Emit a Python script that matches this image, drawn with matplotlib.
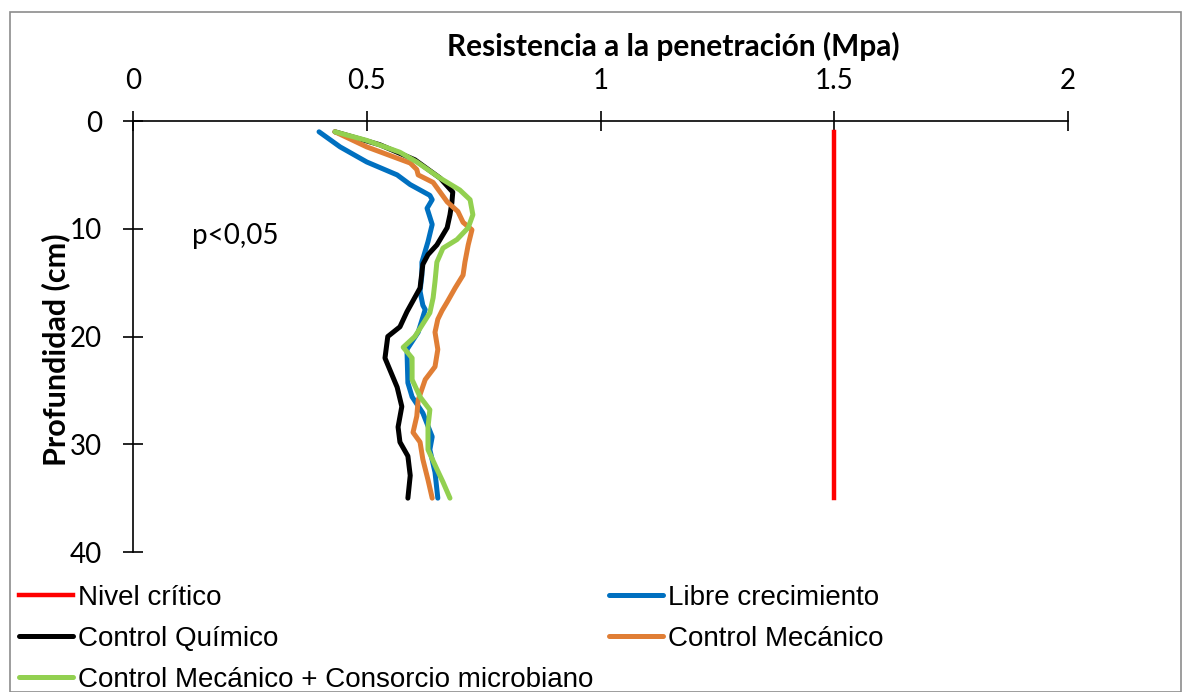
import matplotlib
matplotlib.use("Agg")
import matplotlib.pyplot as plt
from matplotlib.patches import Rectangle

# Depth profiles (Mpa vs cm)
critico_x = [1.5, 1.5]
critico_d = [1, 35]

libre_x = [0.398, 0.443, 0.500, 0.565, 0.593, 0.635, 0.640, 0.629, 0.640, 0.631, 0.618, 0.618,
           0.614, 0.620, 0.625, 0.610, 0.586, 0.588, 0.597, 0.620, 0.640, 0.635, 0.646, 0.652]
libre_d = [1.0, 2.4, 3.8, 5.0, 5.9, 6.9, 7.3, 8.1, 9.6, 11.2, 13.1, 14.3,
           15.8, 17.1, 17.5, 19.6, 21.2, 24.3, 25.6, 27.1, 29.3, 30.5, 32.6, 35.0]

quimico_x = [0.432, 0.528, 0.603, 0.657, 0.684, 0.682, 0.678, 0.672, 0.650, 0.631, 0.620, 0.614,
             0.586, 0.571, 0.545, 0.539, 0.565, 0.575, 0.567, 0.571, 0.588, 0.593, 0.588]
quimico_d = [1.0, 2.2, 3.6, 5.3, 6.6, 7.6, 8.7, 9.9, 11.5, 12.4, 13.3, 15.5,
             17.7, 19.1, 20.0, 22.0, 24.7, 26.5, 28.4, 29.8, 31.1, 32.9, 35.0]

mecanico_x = [0.432, 0.500, 0.593, 0.607, 0.610, 0.642, 0.657, 0.672, 0.695, 0.706, 0.725, 0.717,
              0.710, 0.706, 0.689, 0.672, 0.661, 0.652, 0.646, 0.652, 0.646, 0.625, 0.610, 0.607,
              0.599, 0.614, 0.620, 0.631, 0.640]
mecanico_d = [1.0, 2.4, 3.9, 4.5, 5.0, 5.7, 6.6, 7.5, 8.4, 9.4, 10.1, 11.5,
              13.1, 14.3, 15.5, 16.8, 17.6, 18.4, 19.6, 21.2, 22.8, 24.0, 25.9, 27.4,
              28.9, 29.8, 31.4, 33.3, 35.0]

consorcio_x = [0.432, 0.500, 0.571, 0.607, 0.657, 0.699, 0.721, 0.727, 0.717, 0.693, 0.663, 0.650,
               0.646, 0.642, 0.635, 0.603, 0.578, 0.597, 0.597, 0.614, 0.635, 0.631, 0.631, 0.650,
               0.663, 0.678]
consorcio_d = [1.0, 1.8, 2.9, 3.8, 5.3, 6.4, 7.3, 8.7, 9.9, 11.0, 11.8, 13.1,
               14.9, 16.4, 17.8, 20.0, 21.0, 22.0, 24.0, 25.6, 26.8, 28.4, 30.5, 32.3,
               33.5, 35.0]

x_ticks = [0, 0.5, 1, 1.5, 2]
x_tick_labels = ["0", "0.5", "1", "1.5", "2"]
y_ticks = [0, 10, 20, 30, 40]

plt.rcParams["font.family"] = ["Lato", "DejaVu Sans"]

fig = plt.figure(figsize=(11.82, 6.92), dpi=100)
ax = fig.add_axes([0.1125, 0.2023, 0.7911, 0.6228])

lw = 3.6
h_crit, = ax.plot(critico_x, critico_d, color="#ff0000", lw=3.2, label="Nivel crítico")
h_libre, = ax.plot(libre_x, libre_d, color="#0070c0", lw=lw, label="Libre crecimiento",
                   solid_joinstyle="round", solid_capstyle="round")
h_quim, = ax.plot(quimico_x, quimico_d, color="#000000", lw=lw, label="Control Químico",
                  solid_joinstyle="round", solid_capstyle="round")
h_mec, = ax.plot(mecanico_x, mecanico_d, color="#e07e35", lw=lw, label="Control Mecánico",
                 solid_joinstyle="round", solid_capstyle="round")
h_cons, = ax.plot(consorcio_x, consorcio_d, color="#92d050", lw=lw,
                  label="Control Mecánico + Consorcio microbiano",
                  solid_joinstyle="round", solid_capstyle="round")

ax.set_xlim(0, 2)
ax.set_ylim(40, 0)
ax.xaxis.tick_top()
ax.set_xticks(x_ticks)
ax.set_xticklabels(x_tick_labels)
ax.set_yticks(y_ticks)
ax.tick_params(axis="both", direction="inout", length=14.5, width=1.2, labelsize=20)
ax.tick_params(axis="x", pad=12)
ax.tick_params(axis="y", pad=15)
for s in ["right", "bottom"]:
    ax.spines[s].set_visible(False)
for s in ["top", "left"]:
    ax.spines[s].set_linewidth(1.2)

ax.text(0.126, 10.7, "p<0,05", fontsize=20, va="center", ha="left")

fig.text(0.570, 0.933, "Resistencia a la penetración (Mpa)", fontsize=21.5, fontweight="bold",
         ha="center", va="center")
fig.text(0.047, 0.494, "Profundidad (cm)", fontsize=22, fontweight="bold",
         ha="center", va="center", rotation=90)

# row-wise ordering of the legend
handles = [h_crit, h_quim, h_cons, h_libre, h_mec]
fig.legend(handles=handles, labels=[h.get_label() for h in handles], ncol=2,
           loc="upper left", bbox_to_anchor=(19 / 1182, 0.1545), frameon=False,
           prop={"family": ["Liberation Sans", "DejaVu Sans"], "size": 20},
           handlelength=1.94, handletextpad=0.18, columnspacing=0.58, labelspacing=0.54,
           borderaxespad=0, borderpad=0)

fig.patches.append(Rectangle((10 / 1182, 0), 1 - 11 / 1182, 1 - 12 / 692,
                             transform=fig.transFigure, fill=False,
                             edgecolor="#8c8c8c", lw=1.2))

fig.savefig("out.png", dpi=100)
